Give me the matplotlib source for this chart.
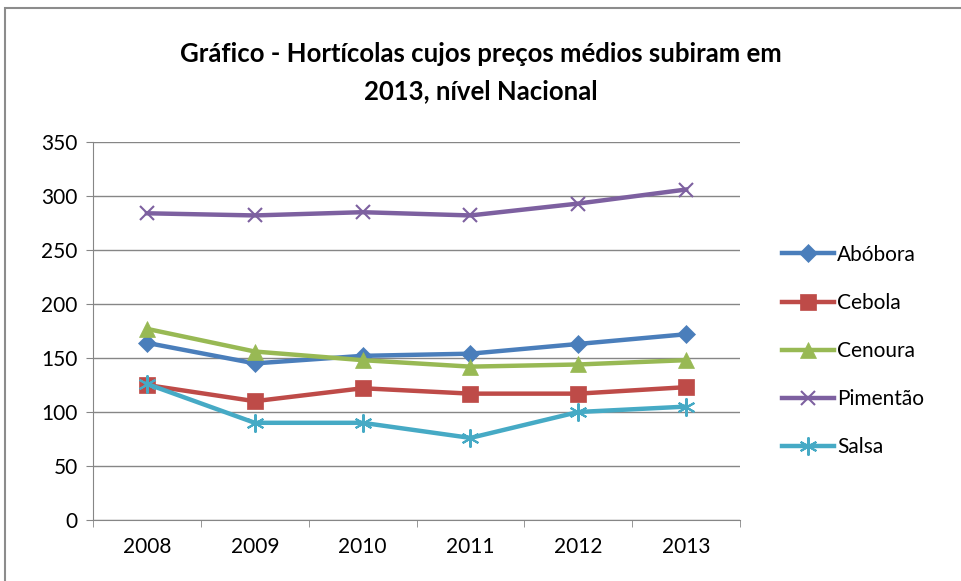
import matplotlib
matplotlib.use("Agg")
import matplotlib.pyplot as plt
from matplotlib.patches import Rectangle
from matplotlib.lines import Line2D

plt.rcParams["font.family"] = ["Lato", "DejaVu Sans"]

years = ["2008", "2009", "2010", "2011", "2012", "2013"]
abobora = [164, 145, 152, 154, 163, 172]
cebola = [125, 110, 122, 117, 117, 123]
cenoura = [177, 156, 148, 142, 144, 148]
pimentao = [284, 282, 285, 282, 293, 306]
salsa = [126, 90, 90, 76, 100, 105]

series = [
    ("Abóbora", abobora, "#4A7EBB", "D", 9),
    ("Cebola", cebola, "#BE4B48", "s", 11),
    ("Cenoura", cenoura, "#98B954", "^", 12),
    ("Pimentão", pimentao, "#7D60A0", "x", 10),
    ("Salsa", salsa, "#46AAC5", (6, 2, 0), 13),
]

W, H = 961, 581
fig = plt.figure(figsize=(W / 100, H / 100), dpi=100)
fig.patches.append(Rectangle((5 / W, -0.1), 1.2, (H - 8) / H + 0.1, transform=fig.transFigure,
                             fill=False, edgecolor="#8c8c8c", linewidth=1.5))

ax = fig.add_axes([93 / W, 1 - 520 / H, (740 - 93) / W, (520 - 142) / H])
x = list(range(len(years)))
for name, vals, col, mk, ms in series:
    mew = 1.5 if mk in ("x",) or isinstance(mk, tuple) else 0.5
    ax.plot(x, vals, color=col, linewidth=3.2, marker=mk, markersize=ms,
            markerfacecolor=col, markeredgecolor=col, markeredgewidth=mew, label=name)

ax.set_xlim(-0.5, len(years) - 0.5)
ax.set_ylim(0, 350)
ax.set_yticks(range(0, 351, 50))
ax.set_xticks(x)
ax.set_xticklabels(years)
ax.set_xticks([i - 0.5 for i in range(len(years) + 1)], minor=True)
ax.tick_params(axis="x", which="major", length=0, labelsize=15, pad=12)
ax.tick_params(axis="x", which="minor", length=5, color="#868686")
ax.tick_params(axis="y", length=5, color="#868686", labelsize=15, pad=6)
ax.grid(axis="y", color="#868686", linewidth=1)
ax.set_axisbelow(True)
for s in ["top", "right"]:
    ax.spines[s].set_visible(False)
for s in ["left", "bottom"]:
    ax.spines[s].set_color("#868686")

fig.text(0.5, 1 - 73 / H, "Gráfico - Hortícolas cujos preços médios subiram em\n2013, nível Nacional",
         ha="center", va="center", fontsize=18.5, fontweight="bold", linespacing=1.65)

handles = [Line2D([0], [0], color=c, linewidth=3.2, marker=m, markersize=ms,
                  markerfacecolor=c, markeredgecolor=c,
                  markeredgewidth=1.5 if m == "x" or isinstance(m, tuple) else 0.5)
           for _, _, c, m, ms in series]
fig.legend(handles, [s[0] for s in series], loc="upper left",
           bbox_to_anchor=(763 / W, 1 - 226 / H), frameon=False, fontsize=15,
           handlelength=2.5, handletextpad=0.15, labelspacing=1.35)

fig.savefig("out.png", dpi=100, facecolor="white")
